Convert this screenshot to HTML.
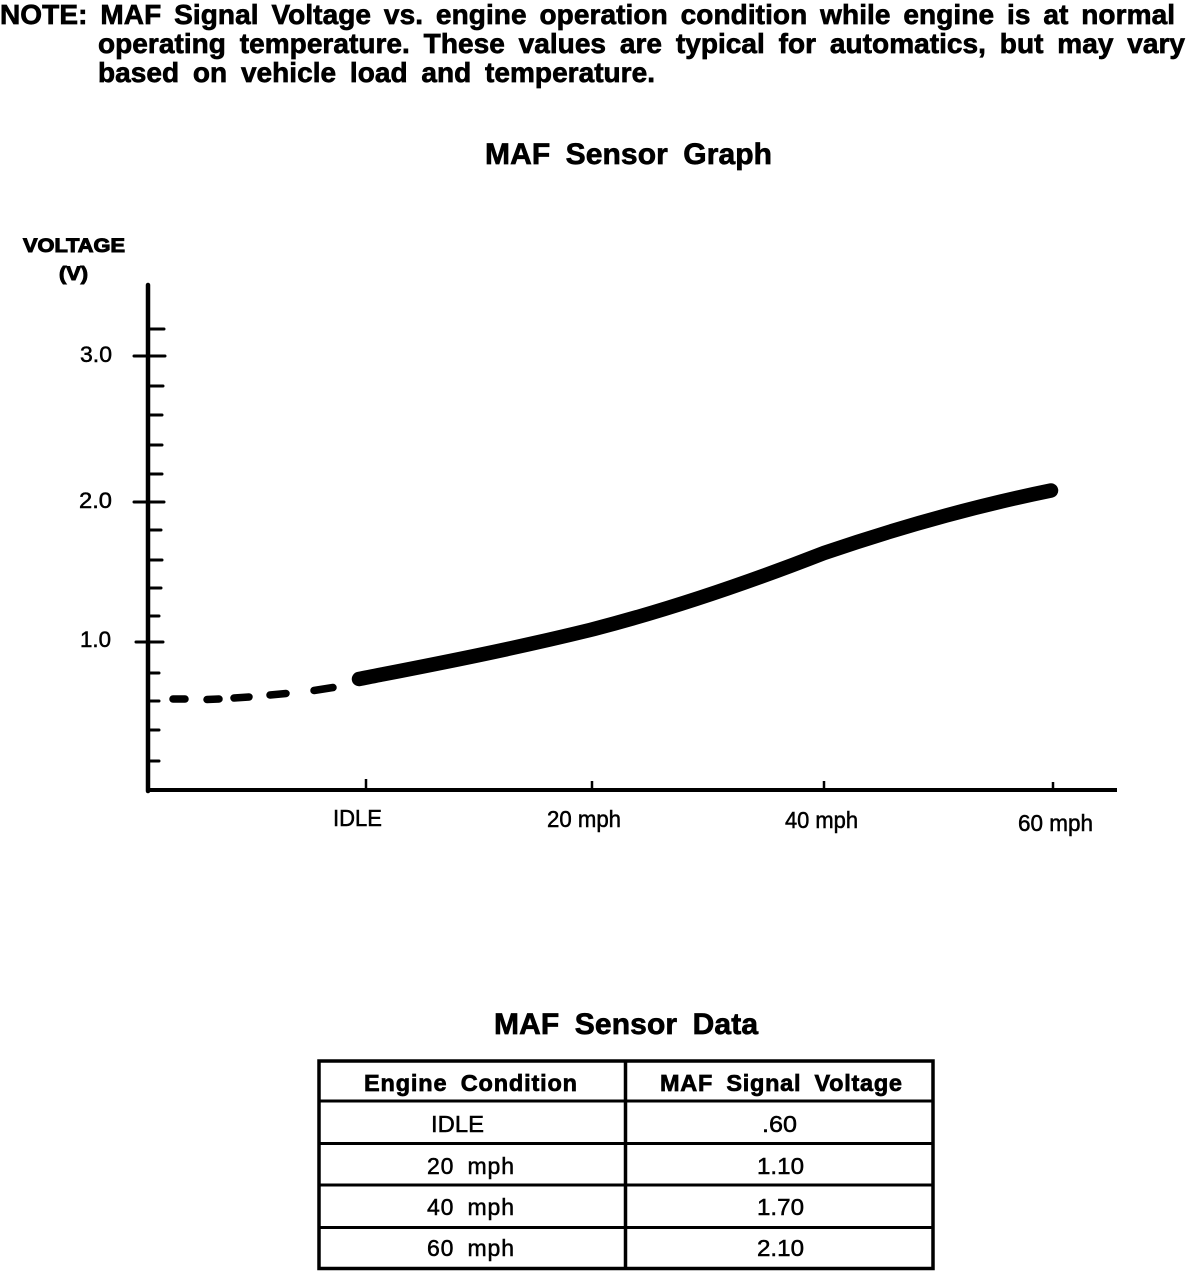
<!DOCTYPE html>
<html>
<head>
<meta charset="utf-8">
<style>
  html,body{margin:0;padding:0;background:#fff;}
  svg{display:block;}
  text{font-family:"Liberation Sans", Arial, sans-serif; fill:#000;}
  .b{font-weight:bold; stroke:#000; stroke-width:0.7px;}
  .r{stroke:#000; stroke-width:0.5px;}
</style>
</head>
<body>
<svg width="1200" height="1274" viewBox="0 0 1200 1274" xmlns="http://www.w3.org/2000/svg">
  <rect x="0" y="0" width="1200" height="1274" fill="#fff"/>

  <!-- NOTE text -->
  <text class="b" x="0" y="24" font-size="28" word-spacing="5" textLength="1175" lengthAdjust="spacing">NOTE: MAF Signal Voltage vs. engine operation condition while engine is at normal</text>
  <text class="b" x="98" y="53" font-size="28" word-spacing="6" textLength="1087" lengthAdjust="spacing">operating temperature. These values are typical for automatics, but may vary</text>
  <text class="b" x="98" y="82" font-size="28" word-spacing="6" textLength="557" lengthAdjust="spacing">based on vehicle load and temperature.</text>

  <!-- Graph title -->
  <text class="b" x="485" y="164" font-size="30" word-spacing="7" textLength="287" lengthAdjust="spacing">MAF Sensor Graph</text>

  <!-- Y axis label -->
  <text class="b" x="23" y="252" font-size="19" textLength="102" lengthAdjust="spacingAndGlyphs" style="stroke-width:1px">VOLTAGE</text>
  <text class="b" x="59" y="280" font-size="19" textLength="29" lengthAdjust="spacingAndGlyphs" style="stroke-width:1px">(V)</text>

  <!-- Axes -->
  <line x1="148" y1="285" x2="148" y2="791" stroke="#000" stroke-width="4.5" stroke-linecap="round"/>
  <line x1="146" y1="790" x2="1117" y2="790" stroke="#000" stroke-width="4"/>

  <!-- Y minor ticks -->
  <g stroke="#000" stroke-width="3" stroke-linecap="round">
    <line x1="148" y1="329" x2="164" y2="329"/>
    <line x1="148" y1="386" x2="163" y2="386"/>
    <line x1="148" y1="415" x2="162" y2="415"/>
    <line x1="148" y1="445" x2="162" y2="445"/>
    <line x1="148" y1="474" x2="162" y2="474"/>
    <line x1="148" y1="530" x2="161" y2="530"/>
    <line x1="148" y1="560" x2="162" y2="560"/>
    <line x1="148" y1="588" x2="161" y2="588"/>
    <line x1="148" y1="616" x2="159" y2="616"/>
    <line x1="148" y1="673" x2="159" y2="673"/>
    <line x1="148" y1="701" x2="159" y2="701"/>
    <line x1="148" y1="730" x2="159" y2="730"/>
    <line x1="148" y1="761" x2="159" y2="761"/>
    <!-- major -->
    <line x1="134" y1="356" x2="165" y2="356"/>
    <line x1="134" y1="502" x2="164" y2="502"/>
    <line x1="136" y1="642" x2="163" y2="642"/>
  </g>

  <!-- Y labels -->
  <text class="r" x="80" y="362" font-size="22" textLength="32" lengthAdjust="spacingAndGlyphs">3.0</text>
  <text class="r" x="79" y="508" font-size="22" textLength="33" lengthAdjust="spacingAndGlyphs">2.0</text>
  <text class="r" x="80" y="647" font-size="22" textLength="31" lengthAdjust="spacingAndGlyphs">1.0</text>

  <!-- X ticks -->
  <g stroke="#000" stroke-width="2.5">
    <line x1="366" y1="779" x2="366" y2="790"/>
    <line x1="592" y1="781" x2="592" y2="790"/>
    <line x1="824" y1="781" x2="824" y2="790"/>
    <line x1="1053" y1="782" x2="1053" y2="790"/>
  </g>

  <!-- X labels -->
  <text class="r" x="333" y="826" font-size="23" textLength="49" lengthAdjust="spacingAndGlyphs">IDLE</text>
  <text class="r" x="547" y="827" font-size="23" textLength="74" lengthAdjust="spacingAndGlyphs">20 mph</text>
  <text class="r" x="785" y="828" font-size="23" textLength="73" lengthAdjust="spacingAndGlyphs">40 mph</text>
  <text class="r" x="1018" y="831" font-size="23" textLength="75" lengthAdjust="spacingAndGlyphs">60 mph</text>

  <!-- Dashed portion -->
  <g stroke="#000" stroke-width="7.5" stroke-linecap="round">
    <line x1="173" y1="699" x2="185" y2="699"/>
    <line x1="207" y1="699.5" x2="219" y2="699"/>
    <line x1="234" y1="698" x2="249" y2="697"/>
    <line x1="270" y1="695" x2="286" y2="693.5"/>
    <line x1="314" y1="690.5" x2="333" y2="687.5"/>
  </g>

  <!-- Solid curve -->
  <path d="M359,679 C420,667 500,652 590,630 C680,607 760,578 824,553 C900,527 980,505 1051,490.5"
        fill="none" stroke="#000" stroke-width="14.5" stroke-linecap="round" stroke-linejoin="round"/>

  <!-- Table title -->
  <text class="b" x="494" y="1034" font-size="30" word-spacing="7" textLength="264" lengthAdjust="spacing">MAF Sensor Data</text>

  <!-- Table -->
  <g stroke="#000" fill="none">
    <rect x="319" y="1061" width="614" height="207.5" stroke-width="3.5"/>
    <line x1="319" y1="1101" x2="933" y2="1101" stroke-width="3"/>
    <line x1="319" y1="1143.5" x2="933" y2="1143.5" stroke-width="3"/>
    <line x1="319" y1="1185" x2="933" y2="1185" stroke-width="3"/>
    <line x1="319" y1="1227.5" x2="933" y2="1227.5" stroke-width="3"/>
    <line x1="625.5" y1="1061" x2="625.5" y2="1268.5" stroke-width="3.5"/>
  </g>

  <!-- Table text -->
  <text class="b" x="364" y="1091" font-size="23.5" word-spacing="6" textLength="213" lengthAdjust="spacing">Engine Condition</text>
  <text class="b" x="660" y="1091" font-size="23.5" word-spacing="6" textLength="242" lengthAdjust="spacing">MAF Signal Voltage</text>

  <text class="r" x="431" y="1132" font-size="23" textLength="53" lengthAdjust="spacingAndGlyphs">IDLE</text>
  <text class="r" x="427" y="1174" font-size="23" word-spacing="6" textLength="87" lengthAdjust="spacing">20 mph</text>
  <text class="r" x="427" y="1215" font-size="23" word-spacing="6" textLength="87" lengthAdjust="spacing">40 mph</text>
  <text class="r" x="427" y="1256" font-size="23" word-spacing="6" textLength="87" lengthAdjust="spacing">60 mph</text>

  <text class="r" x="762" y="1132" font-size="23" textLength="35" lengthAdjust="spacingAndGlyphs">.60</text>
  <text class="r" x="757" y="1174" font-size="23" textLength="47" lengthAdjust="spacingAndGlyphs">1.10</text>
  <text class="r" x="757" y="1215" font-size="23" textLength="47" lengthAdjust="spacingAndGlyphs">1.70</text>
  <text class="r" x="757" y="1256" font-size="23" textLength="47" lengthAdjust="spacingAndGlyphs">2.10</text>
</svg>
</body>
</html>
